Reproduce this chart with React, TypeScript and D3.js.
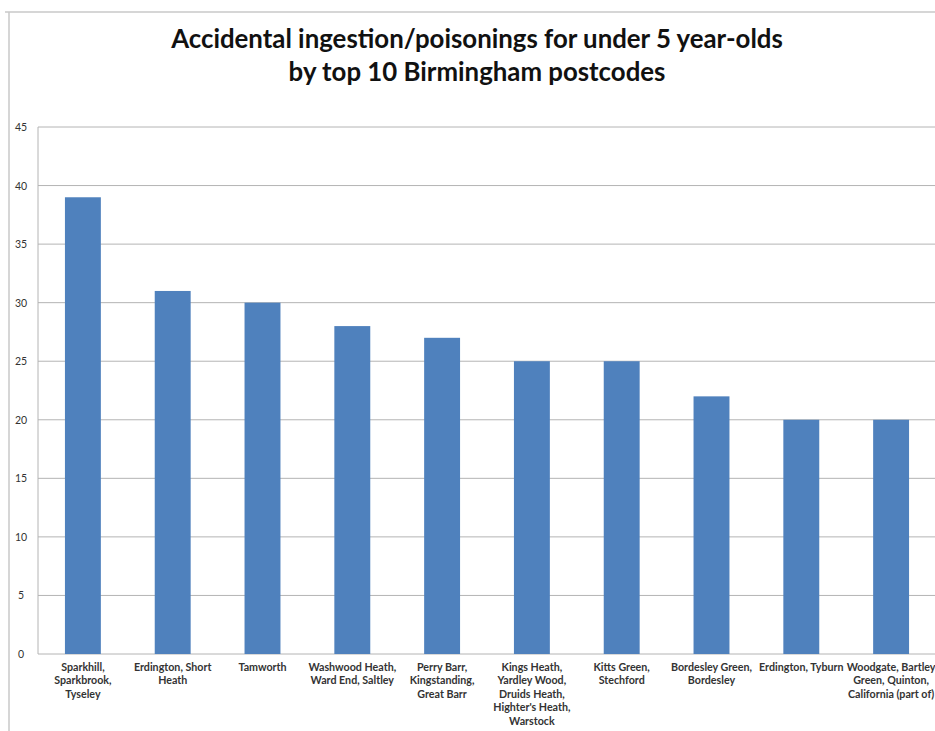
import React from "react";
import * as d3 from "d3";

const titleLines = ["Accidental ingestion/poisonings for under 5 year-olds", "by top 10 Birmingham postcodes"];
const categories = [
  "Sparkhill,\nSparkbrook,\nTyseley",
  "Erdington, Short\nHeath",
  "Tamworth",
  "Washwood Heath,\nWard End, Saltley",
  "Perry Barr,\nKingstanding,\nGreat Barr",
  "Kings Heath,\nYardley Wood,\nDruids Heath,\nHighter's Heath,\nWarstock",
  "Kitts Green,\nStechford",
  "Bordesley Green,\nBordesley",
  "Erdington, Tyburn",
  "Woodgate, Bartley\nGreen, Quinton,\nCalifornia (part of)",
];
const values = [39, 31, 30, 28, 27, 25, 25, 22, 20, 20];
const yTicks = [0, 5, 10, 15, 20, 25, 30, 35, 40, 45];

const W = 935;
const H = 731;
const FONT = "Lato, 'Liberation Sans', sans-serif";

export default function App() {
  const left = 38;
  const right = 936;
  const top = 127;
  const bottom = 654;
  const band = d3.scaleBand<number>().domain(d3.range(categories.length)).range([left, right]);
  const y = d3.scaleLinear().domain([0, 45]).range([bottom, top]);

  return (
    <svg width={W} height={H} style={{ position: "absolute", left: 0, top: 0, background: "#fff" }}>
      <rect x={0} y={0} width={W} height={H} fill="#fff" />
      <line x1={5} x2={W} y1={12} y2={12} stroke="#c8c8c8" strokeWidth={1.5} />
      <line x1={9} x2={9} y1={12} y2={H} stroke="#c8c8c8" strokeWidth={1.5} />
      {titleLines.map((t, i) => (
        <text key={i} x={477} y={48 + i * 32.5} textAnchor="middle" fontFamily={FONT} fontWeight="bold" fontSize={25.8} fill="#111">
          {t}
        </text>
      ))}
      {yTicks.map((t) => (
        <g key={t}>
          <line x1={left} x2={right} y1={y(t)} y2={y(t)} stroke="#b4b4b4" strokeWidth={1} />
          <text x={21} y={y(t) + 4} textAnchor="middle" fontFamily={FONT} fontSize={10.5} fill="#333">
            {t}
          </text>
        </g>
      ))}
      <line x1={left} x2={left} y1={top} y2={bottom} stroke="#b4b4b4" strokeWidth={1} />
      {values.map((v, i) => {
        const bw = band.bandwidth() / 2.5;
        const cx = (band(i) as number) + band.bandwidth() / 2;
        return <rect key={i} x={cx - bw / 2} y={y(v)} width={bw} height={y(0) - y(v)} fill="#4F81BD" />;
      })}
      {categories.map((c, i) => {
        const cx = (band(i) as number) + band.bandwidth() / 2;
        return (
          <text key={i} textAnchor="middle" fontFamily={FONT} fontSize={10.7} fontWeight="bold" fill="#333">
            {c.split("\n").map((line, j) => (
              <tspan key={j} x={cx} y={671 + j * 13.4}>
                {line}
              </tspan>
            ))}
          </text>
        );
      })}
    </svg>
  );
}
